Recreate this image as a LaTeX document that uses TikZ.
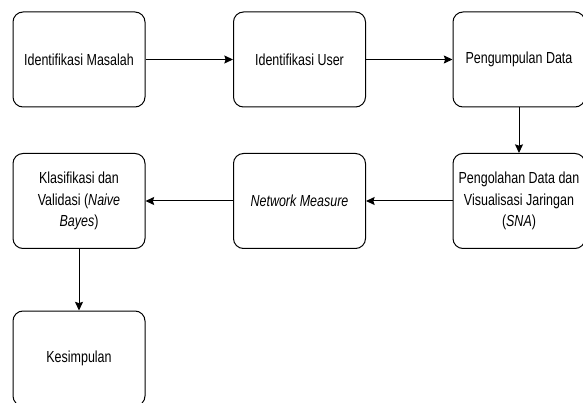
\documentclass[tikz,border=0pt]{standalone}
\usepackage{fontspec}
\setmainfont{Liberation Sans}[FakeStretch=0.78]
\usetikzlibrary{arrows.meta}
\tikzset{
    stepbox/.style={draw, line width=0.75pt, rounded corners=7.5pt, minimum width=99pt, minimum height=71.25pt, inner xsep=0pt, align=center, font=\fontsize{12}{16.3}\selectfont},
    flow/.style={-{Stealth[length=6.5pt,width=6pt,inset=1pt]}, line width=0.75pt}
}
\begin{document}
\begin{tikzpicture}[x=0.75pt,y=0.75pt,yscale=-1,xscale=1]
            \useasboundingbox (0,0) rectangle (583,403);
            \node[stepbox] (masalah) at (79,59.5) {Identifikasi Masalah};
            \node[stepbox] (user) at (299.5,59.5) {Identifikasi User};
            \node[stepbox] (kumpul) at (519,59.5) {Pengumpulan Data};
            \node[stepbox] (olah) at (519,201) {Pengolahan Data dan\\Visualisasi Jaringan\\(\textit{SNA})};
            \node[stepbox] (measure) at (299.5,201) {\textit{Network Measure}};
            \node[stepbox] (klasifikasi) at (79,201) {Klasifikasi dan\\Validasi (\textit{Naive}\\\textit{Bayes})};
            \node[stepbox] (simpulan) at (79,358.5) {Kesimpulan};
            \draw[flow] (masalah) -- (user);
            \draw[flow] (user) -- (kumpul);
            \draw[flow] (kumpul) -- (olah);
            \draw[flow] (olah) -- (measure);
            \draw[flow] (measure) -- (klasifikasi);
            \draw[flow] (klasifikasi) -- (simpulan);
        \end{tikzpicture}
\end{document}
